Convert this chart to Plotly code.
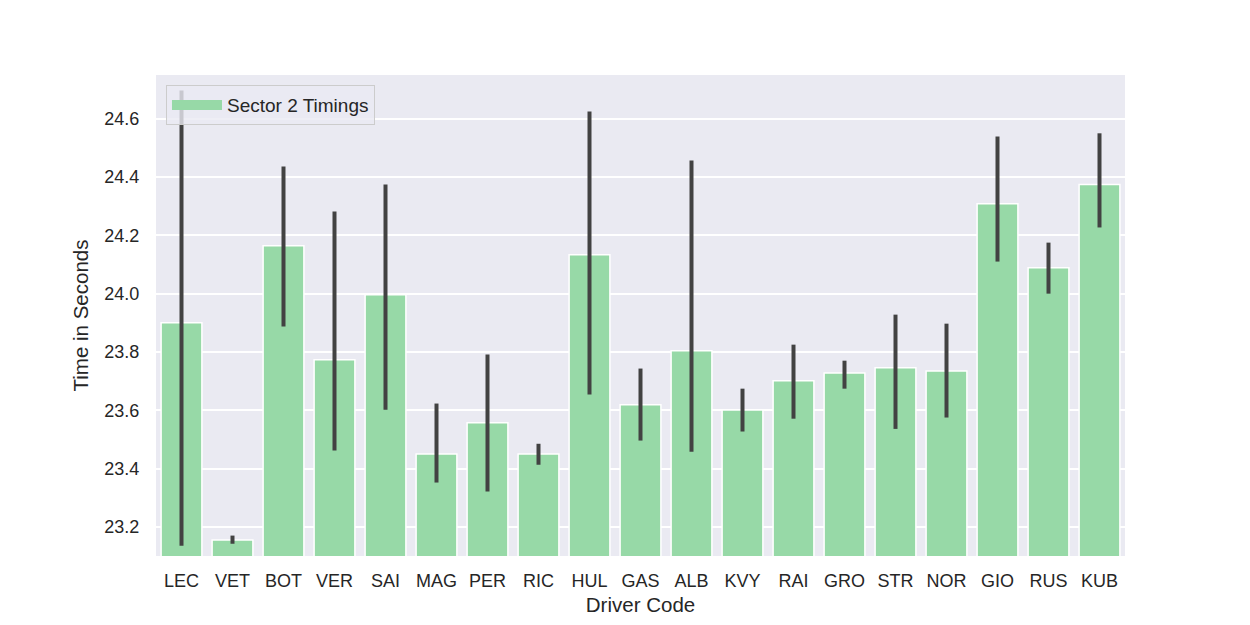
import plotly.graph_objects as go

drivers = ["LEC", "VET", "BOT", "VER", "SAI", "MAG", "PER", "RIC", "HUL", "GAS",
           "ALB", "KVY", "RAI", "GRO", "STR", "NOR", "GIO", "RUS", "KUB"]
mean_time = [23.900, 23.155, 24.164, 23.773, 23.996, 23.450, 23.557, 23.450, 24.133, 23.619,
             23.804, 23.601, 23.701, 23.728, 23.746, 23.735, 24.308, 24.089, 24.374]
ci_high = [24.697, 23.170, 24.436, 24.282, 24.374, 23.623, 23.791, 23.485, 24.625, 23.743,
           24.457, 23.674, 23.825, 23.770, 23.928, 23.897, 24.539, 24.175, 24.550]
ci_low = [23.135, 23.142, 23.887, 23.462, 23.602, 23.352, 23.321, 23.413, 23.654, 23.496,
          23.458, 23.527, 23.571, 23.674, 23.536, 23.575, 24.110, 24.000, 24.227]
y_ticks = [23.2, 23.4, 23.6, 23.8, 24.0, 24.2, 24.4, 24.6]
series_name = "Sector 2 Timings"
bar_color = "#97D9A7"

err_plus = [h - m for h, m in zip(ci_high, mean_time)]
err_minus = [m - l for m, l in zip(mean_time, ci_low)]

font_family = "Liberation Sans, Arial, sans-serif"

fig = go.Figure()
fig.add_trace(go.Bar(
    x=drivers, y=mean_time, name=series_name,
    marker=dict(color=bar_color, line=dict(color="white", width=1.5)),
    error_y=dict(type="data", symmetric=False, array=err_plus, arrayminus=err_minus,
                 color="#424242", thickness=4, width=0),
    showlegend=False,
))
# legend proxy (wide patch like matplotlib's legend handle)
fig.add_trace(go.Scatter(
    x=[None], y=[None], mode="lines", name=series_name,
    line=dict(color=bar_color, width=13), showlegend=True,
))

fig.update_layout(
    width=1250, height=625,
    margin=dict(l=156, r=125, t=75, b=69),
    paper_bgcolor="white", plot_bgcolor="#EAEAF2",
    font=dict(family=font_family, size=18, color="#262626"),
    bargap=0.2,
    showlegend=True,
    legend=dict(x=0.0103, y=0.979, xanchor="left", yanchor="top",
                bgcolor="rgba(234,234,242,0.8)", bordercolor="#CCCCCC", borderwidth=1,
                font=dict(size=19, color="#262626"), itemwidth=50),
    xaxis=dict(title=dict(text="Driver Code", font=dict(size=20.5), standoff=8),
               showgrid=False, zeroline=False, showline=False,
               ticks="outside", ticklen=8, tickcolor="rgba(0,0,0,0)",
               tickfont=dict(size=18)),
    yaxis=dict(title=dict(text="Time in Seconds", font=dict(size=20.5), standoff=10),
               range=[23.1, 24.75], tickvals=y_ticks, tickformat=".1f",
               showgrid=True, gridcolor="white", gridwidth=1.5,
               zeroline=False, showline=False,
               ticks="outside", ticklen=12, tickcolor="rgba(0,0,0,0)",
               tickfont=dict(size=18)),
)

fig.write_html("out.html")
